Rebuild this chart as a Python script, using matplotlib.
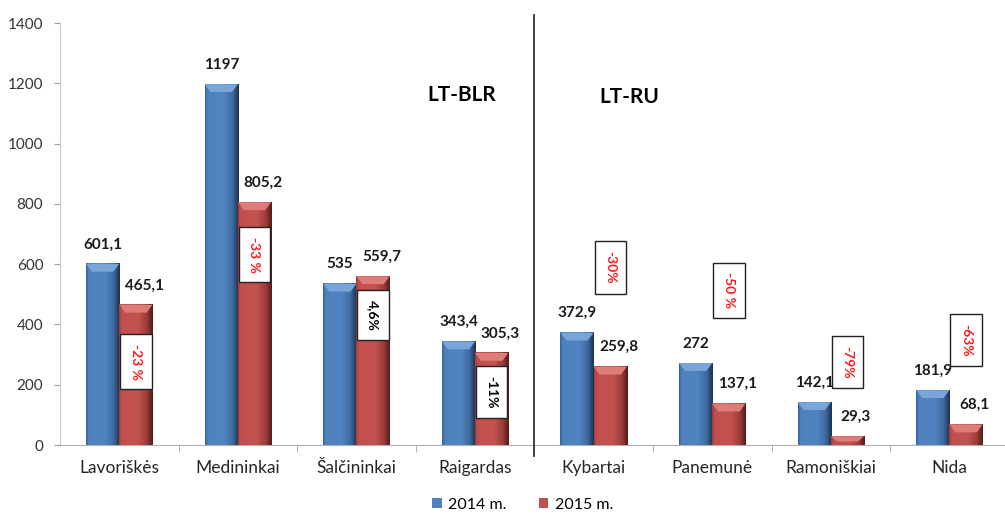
import numpy as np
import matplotlib
matplotlib.use("Agg")
import matplotlib.pyplot as plt
from matplotlib.colors import LinearSegmentedColormap
from matplotlib.patches import Polygon
from matplotlib.ticker import MultipleLocator, FixedLocator

plt.rcParams['font.family'] = ['Lato', 'DejaVu Sans']

# border crossing points and yearly values
places = ["Lavoriškės", "Medininkai", "Šalčininkai", "Raigardas",
          "Kybartai", "Panemunė", "Ramoniškiai", "Nida"]
val_2014 = [601.1, 1197, 535, 343.4, 372.9, 272, 142.1, 181.9]
val_2015 = [465.1, 805.2, 559.7, 305.3, 259.8, 137.1, 29.3, 68.1]
lbl_2014 = ["601,1", "1197", "535", "343,4", "372,9", "272", "142,1", "181,9"]
lbl_2015 = ["465,1", "805,2", "559,7", "305,3", "259,8", "137,1", "29,3", "68,1"]
change_txt = ["-23 %", "-33 %", "4,6%", "-11%", "-30%", "-50 %", "-79%", "-63%"]
change_y = [277, 632, 431, 176, 589, 513, 275, 348]   # where each change box sits
change_col = ["#ff1a1a", "#ff1a1a", "black", "black", "#ff1a1a", "#ff1a1a", "#ff1a1a", "#ff1a1a"]
groups = ["LT-BLR", "LT-RU"]

fig = plt.figure(figsize=(10.05, 5.2), dpi=100)
ax = fig.add_axes([0.0597, 0.1442, 0.944, 0.8115])

x = np.arange(len(places))
w = 0.28
b1 = ax.bar(x - w / 2, val_2014, w, color='#4f81bd', label='2014 m.', zorder=2)
b2 = ax.bar(x + w / 2, val_2015, w, color='#c0504d', label='2015 m.', zorder=2)

blue_cm = LinearSegmentedColormap.from_list('bl', [(0, '#34639b'), (0.07, '#4f81bd'), (0.55, '#5085c2'),
                                                   (0.82, '#3f6a9e'), (1, '#1b3252')])
red_cm = LinearSegmentedColormap.from_list('rd', [(0, '#a03c39'), (0.07, '#c0504d'), (0.55, '#c4534f'),
                                                  (0.82, '#9c3d3a'), (1, '#561c1a')])
grad = np.linspace(0, 1, 64).reshape(1, -1)


def shade(bars, cmap, top_col):
    # bevelled look: horizontal gradient plus a lighter top facet
    for p in bars:
        x0, w0, h = p.get_x(), p.get_width(), p.get_height()
        ax.imshow(grad, cmap=cmap, extent=[x0, x0 + w0, 0, h], aspect='auto',
                  zorder=3, interpolation='bilinear')
        dy = min(26, h * 0.6)
        dx = w0 * 0.18
        ax.add_patch(Polygon([(x0, h), (x0 + w0, h), (x0 + w0 - dx, h - dy), (x0 + dx, h - dy)],
                             closed=True, facecolor=top_col, edgecolor='none', zorder=4))


shade(b1, blue_cm, '#7aa5da')
shade(b2, red_cm, '#dd7c78')

# value labels
for p, t in zip(b1, lbl_2014):
    ax.annotate(t, (p.get_x() + p.get_width() / 2, p.get_height()), xytext=(0, 9),
                textcoords='offset points', ha='center', va='bottom', fontsize=11,
                fontweight='bold', color='#1a1a1a', zorder=6)
for p, t in zip(b2, lbl_2015):
    ax.annotate(t, (p.get_x() + p.get_width() / 2, p.get_height()), xytext=(6, 9),
                textcoords='offset points', ha='center', va='bottom', fontsize=11,
                fontweight='bold', color='#1a1a1a', zorder=6)

# change boxes
for p, t, yy, c in zip(b2, change_txt, change_y, change_col):
    ax.text(p.get_x() + p.get_width() / 2, yy, t, rotation=-90, ha='center', va='center',
            fontsize=10, fontweight='bold', color=c, zorder=7,
            bbox=dict(boxstyle='square,pad=0.7', facecolor='white', edgecolor='#222222', lw=1))

# separator and group titles
ax.plot([3.5, 3.5], [-35, 1428], color='#333333', lw=1.3, clip_on=False, zorder=5)
ax.text(2.89, 1160, groups[0], ha='center', va='center', fontsize=15, fontweight='bold')
ax.text(4.30, 1155, groups[1], ha='center', va='center', fontsize=15, fontweight='bold')

ax.set_xlim(-0.5, 7.5)
ax.set_ylim(0, 1400)
ax.yaxis.set_major_locator(MultipleLocator(200))
ax.set_xticks(x)
ax.set_xticklabels(places, fontsize=12.5, color='#262626')
ax.xaxis.set_minor_locator(FixedLocator(np.arange(0.5, 7.5, 1)))
ax.tick_params(axis='x', which='major', length=0, pad=11)
ax.tick_params(axis='x', which='minor', length=5, color='#a0a0a0')
ax.tick_params(axis='y', length=4, color='#a0a0a0', labelsize=11, labelcolor='#333333', pad=8)
for s in ['top', 'right']:
    ax.spines[s].set_visible(False)
ax.spines['left'].set_color('#c8c8c8')
ax.spines['bottom'].set_color('#b0b0b0')

leg = fig.legend(handles=[b1, b2], loc='lower center', bbox_to_anchor=(0.52, -0.012), ncol=2,
                 frameon=False, fontsize=11.5, handlelength=0.6, handleheight=0.6,
                 handletextpad=0.4, columnspacing=2.0)

fig.savefig("out.png", dpi=100)
